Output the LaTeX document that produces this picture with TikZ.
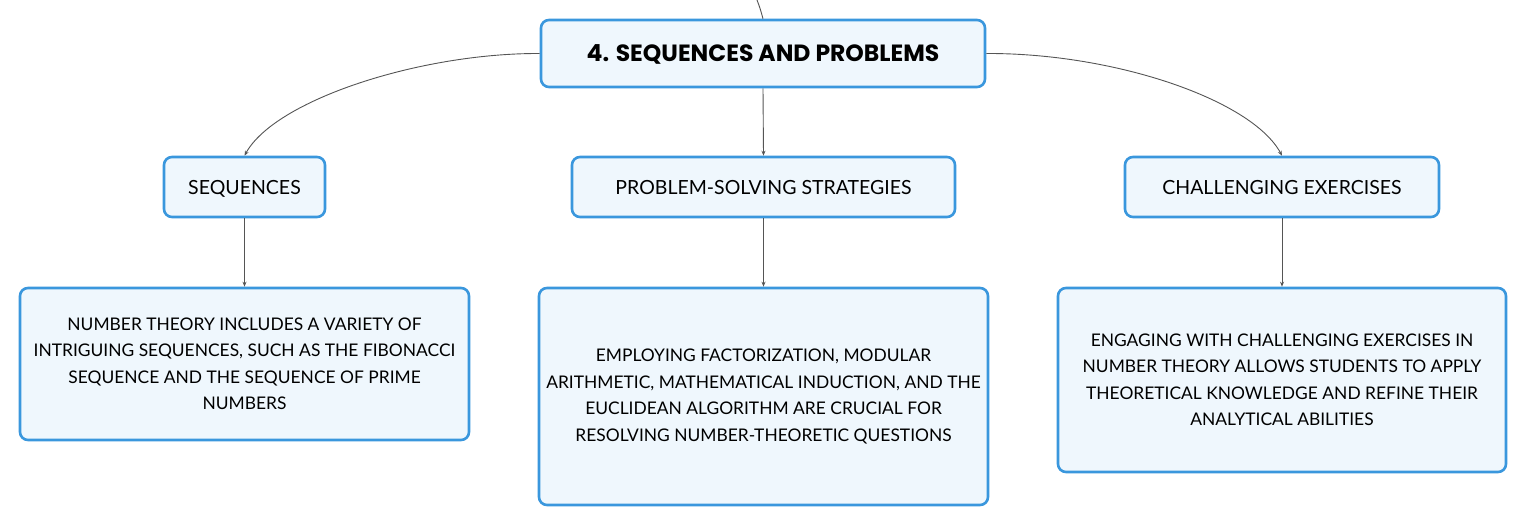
\documentclass[tikz,border=0pt]{standalone}
\usepackage{fontspec}
\setmainfont{Lato}
\newfontfamily\titlefont{Poppins}
\usetikzlibrary{arrows.meta}
\definecolor{bordc}{HTML}{3A97DD}
\definecolor{fillc}{HTML}{EFF7FD}
\definecolor{linec}{HTML}{555555}
\tikzset{
  box/.style={draw=bordc, line width=2.6pt, fill=fillc, rounded corners=8pt, align=center, inner sep=0pt, font=\fontsize{17.4}{26.5}\selectfont},
  midbox/.style={box, minimum height=60pt, text depth=0pt, font=\fontsize{19.5}{24}\selectfont},
  conn/.style={draw=linec, line width=0.9pt},
  arr/.style={conn, -{Stealth[length=5pt,width=4pt]}}
}
\begin{document}
\begin{tikzpicture}[x=1pt,y=-1pt]
\useasboundingbox (0,0) rectangle (1527,526);
\node[box, minimum width=444pt, minimum height=67pt, text depth=0pt, font=\fontsize{23.5}{26}\titlefont\bfseries] (root) at (763,53.5) {4. SEQUENCES AND PROBLEMS};
\node[midbox, minimum width=161pt] (seq) at (244.5,187) {SEQUENCES};
\node[midbox, minimum width=383pt] (pss) at (763.5,187) {PROBLEM-SOLVING STRATEGIES};
\node[midbox, minimum width=314pt] (che) at (1282,187) {CHALLENGING EXERCISES};
\node[box, minimum width=449pt, minimum height=152pt] (l1) at (244.5,364) {NUMBER THEORY INCLUDES A VARIETY OF\\INTRIGUING SEQUENCES, SUCH AS THE FIBONACCI\\SEQUENCE AND THE SEQUENCE OF PRIME\\NUMBERS};
\node[box, minimum width=449pt, minimum height=217pt] (l2) at (763.5,396.5) {EMPLOYING FACTORIZATION, MODULAR\\ARITHMETIC, MATHEMATICAL INDUCTION, AND THE\\EUCLIDEAN ALGORITHM ARE CRUCIAL FOR\\RESOLVING NUMBER-THEORETIC QUESTIONS};
\node[box, minimum width=448pt, minimum height=184pt] (l3) at (1282,380) {ENGAGING WITH CHALLENGING EXERCISES IN\\NUMBER THEORY ALLOWS STUDENTS TO APPLY\\THEORETICAL KNOWLEDGE AND REFINE THEIR\\ANALYTICAL ABILITIES};
\coordinate (topin) at (757,0);
\draw[conn] (topin) .. controls (760,8) .. (root.north);
\draw[arr] (root.west) .. controls (420,53) and (275,100) .. (seq.north);
\draw[arr] (root.east) .. controls (1115,53) and (1252,100) .. (che.north);
\draw[arr] (root.south) -- (pss.north);
\draw[arr] (seq.south) -- (l1.north);
\draw[arr] (pss.south) -- (l2.north);
\draw[arr] (che.south) -- (l3.north);
\end{tikzpicture}
\end{document}
